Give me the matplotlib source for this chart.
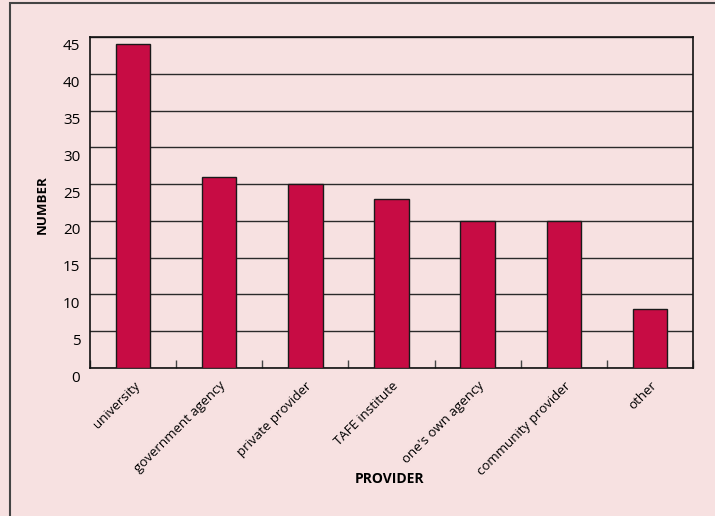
import numpy as np
import matplotlib.pyplot as plt
import matplotlib.transforms as mtransforms
from matplotlib.patches import Rectangle

plt.rcParams['font.family'] = ['Open Sans', 'DejaVu Sans']

providers = ['university', 'government agency', 'private provider', 'TAFE institute',
             "one's own agency", 'community provider', 'other']
counts = [44, 26, 25, 23, 20, 20, 8]
yticks = [0, 5, 10, 15, 20, 25, 30, 35, 40, 45]

bg = '#f7e1e1'
bar_col = '#c70c44'

fig = plt.figure(figsize=(7.15, 5.16), dpi=100, facecolor=bg)
ax = fig.add_axes([0.1259, 0.2868, 0.8434, 0.6415])
ax.set_facecolor(bg)

x = np.arange(len(providers))
ax.bar(x, counts, width=0.4, color=bar_col, edgecolor='#1a1a1a', linewidth=1.0, zorder=3)

ax.set_xlim(-0.5, len(providers) - 0.5)
ax.set_ylim(0, 45)
ax.set_yticks(yticks)
ax.yaxis.grid(True, color='#2a2a2a', linewidth=1.0, zorder=1)
ax.tick_params(axis='y', length=0, pad=7, labelsize=11)

# shift the y labels down a little so they sit under their gridline
shift = mtransforms.ScaledTranslation(0, -8 / 100, fig.dpi_scale_trans)
for lbl in ax.get_yticklabels():
    lbl.set_transform(lbl.get_transform() + shift)

ax.set_xticks(x)
ax.set_xticklabels(providers, rotation=45, ha='right', va='top',
                   rotation_mode='anchor', fontsize=9.5)
ax.tick_params(axis='x', length=0, pad=8)
ax.set_xticks(np.arange(len(providers) + 1) - 0.5, minor=True)
ax.tick_params(axis='x', which='minor', direction='in', length=6,
               color='#444444', width=1.0)

for s in ax.spines.values():
    s.set_color('#111111')
    s.set_linewidth(1.2)

fig.text(42 / 715, (516 - 205) / 516, 'NUMBER', rotation=90, ha='center', va='center',
         fontsize=9.5, fontweight='bold')
fig.text(390 / 715, (516 - 479) / 516, 'PROVIDER', ha='center', va='center',
         fontsize=10, fontweight='bold')

# outer frame
fig.patches.append(Rectangle((10 / 715, -0.1), 1.2, (516 - 3) / 516 + 0.1,
                             transform=fig.transFigure, fill=False,
                             edgecolor='#444444', linewidth=1.5))

fig.savefig('out.png', dpi=100, facecolor=bg)
